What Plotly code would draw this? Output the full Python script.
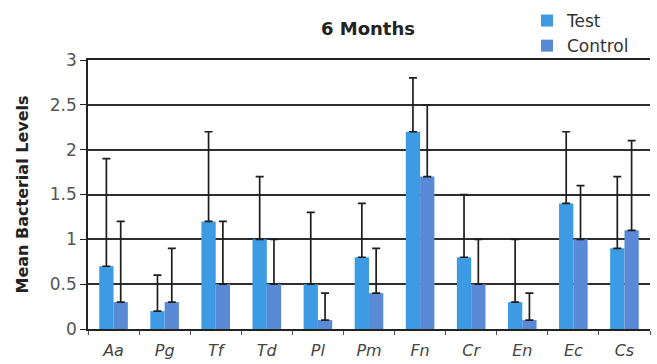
import plotly.graph_objects as go

categories = ["Aa", "Pg", "Tf", "Td", "Pl", "Pm", "Fn", "Cr", "En", "Ec", "Cs"]
test_values = [0.7, 0.2, 1.2, 1.0, 0.5, 0.8, 2.2, 0.8, 0.3, 1.4, 0.9]
control_values = [0.3, 0.3, 0.5, 0.5, 0.1, 0.4, 1.7, 0.5, 0.1, 1.0, 1.1]
test_err = [1.2, 0.4, 1.0, 0.7, 0.8, 0.6, 0.6, 0.7, 0.7, 0.8, 0.8]
control_err = [0.9, 0.6, 0.7, 0.5, 0.3, 0.5, 0.8, 0.5, 0.3, 0.6, 1.0]
y_ticks = [0, 0.5, 1, 1.5, 2, 2.5, 3]
y_tick_text = ["0", "0.5", "1", "1.5", "2", "2.5", "3"]
y_range = [0, 3]

TEST_COLOR = "#3d9be3"
CONTROL_COLOR = "#5a8ad6"
ERR_COLOR = "#1e1e1e"
GRID_COLOR = "#2e2e2e"

W, H = 657, 364
L, R, T, B = 88, 7, 60, 35
PW, PH = W - L - R, H - T - B

def err(arr):
    return dict(type="data", array=arr, arrayminus=[0] * len(arr), symmetric=False,
                color=ERR_COLOR, thickness=1.7, width=4)

fig = go.Figure()
fig.add_trace(go.Bar(x=categories, y=test_values, name="Test", marker_color=TEST_COLOR,
                     marker_line_width=0, error_y=err(test_err)))
fig.add_trace(go.Bar(x=categories, y=control_values, name="Control", marker_color=CONTROL_COLOR,
                     marker_line_width=0, error_y=err(control_err)))

fig.update_layout(
    width=W, height=H,
    margin=dict(l=L, r=R, t=T, b=B, autoexpand=False),
    paper_bgcolor="white", plot_bgcolor="white",
    barmode="group", bargap=0.44, bargroupgap=0.0,
    font=dict(family="DejaVu Sans", color="#444444"),
    title=dict(text="<b>6 Months</b>", x=(368 - L) / PW, xanchor="center", xref="paper",
               y=1 - 29 / H, yanchor="middle", yref="container",
               font=dict(family="DejaVu Sans", size=18, color="#222222")),
    legend=dict(x=(527 - L) / PW, y=1 + (T - 3) / PH, xanchor="left", yanchor="top",
                xref="paper", yref="paper",
                font=dict(family="DejaVu Sans", size=17, color="#333333"),
                bgcolor="rgba(255,255,255,0)", borderwidth=0, itemwidth=30,
                tracegroupgap=0),
    showlegend=True,
)
fig.update_xaxes(
    type="category", showline=True, mirror=True, linecolor="#222222", linewidth=1.6,
    ticks="outside", tickson="boundaries", ticklen=4, tickcolor="#555555", tickwidth=1.2,
    tickfont=dict(family="DejaVu Sans", size=16, color="#444444", style="italic"),
    ticklabelstandoff=6,
    showgrid=False,
)
fig.update_yaxes(
    range=y_range, tickvals=y_ticks, ticktext=y_tick_text,
    showline=True, linecolor="#222222", linewidth=1.6,
    ticks="outside", ticklen=6, tickcolor="#222222", tickwidth=1.2,
    tickfont=dict(family="DejaVu Sans", size=17, color="#555555"),
    showgrid=True, gridcolor=GRID_COLOR, gridwidth=1.6, zeroline=False,
    title=dict(text="<b>Mean Bacterial Levels</b>", standoff=17,
               font=dict(family="DejaVu Sans", size=16, color="#222222")),
)

fig.write_html("out.html")
